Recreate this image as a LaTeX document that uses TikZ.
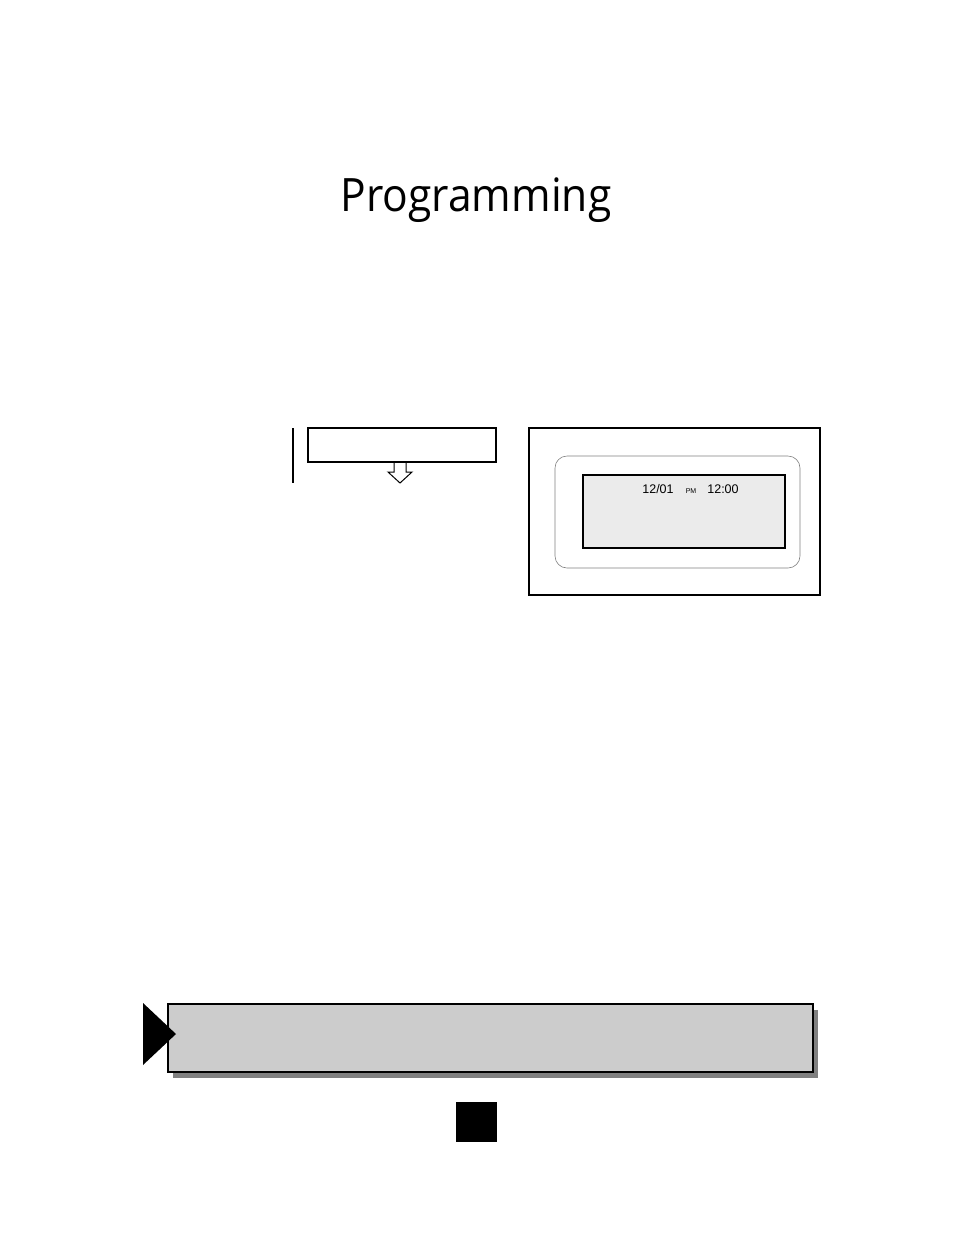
\documentclass[tikz,border=0pt]{standalone}
\usepackage{fontspec}
\setmainfont{Open Sans}
\newfontfamily\lcdfont{Liberation Sans}
\usetikzlibrary{positioning}
\definecolor{lcdgray}{RGB}{235,235,235}
\definecolor{notegray}{RGB}{204,204,204}
\definecolor{shadowgray}{RGB}{128,128,128}
\tikzset{
  plainbox/.style={draw, anchor=north west, inner sep=0pt, outer sep=0pt},
  lcdtext/.style={font=\lcdfont\fontsize{12.5}{14}\selectfont, inner sep=0pt}
}
\begin{document}
\begin{tikzpicture}[x=1pt, y=-1pt]
		\useasboundingbox (0,0) rectangle (954,1235);
		% Title
		\node[inner sep=0pt] (title) at (476,200) {\scalebox{0.925}[1]{\fontsize{46}{52}\selectfont Programming}};
		
		% Step box with hollow arrow
		\draw[line width=1.5pt] (293,428) -- (293,483);
		\node[plainbox, line width=1.3pt, minimum width=188pt, minimum height=34pt] (stepbox) at (308,428) {};
		\draw[line width=1pt, line join=miter] (394,462) -- (394,472) -- (388,472) -- (400,483) -- (412,472) -- (406,472) -- (406,462);
		
		% Display
		\node[plainbox, line width=1.3pt, minimum width=291pt, minimum height=167pt] (display) at (529,428) {};
		\node[plainbox, draw=gray, line width=0.6pt, rounded corners=12pt, minimum width=245pt, minimum height=112pt] (bezel) at (555,456) {};
		\node[plainbox, line width=1.6pt, fill=lcdgray, minimum width=202pt, minimum height=73pt] (lcd) at (583,475) {};
		\node[lcdtext] (date) at (658,489) {12/01};
		\node[lcdtext, font=\lcdfont\fontsize{7}{8}\selectfont] (ampm) at (691,491) {PM};
		\node[lcdtext] (clock) at (723,489) {12:00};
		
		% Note bar
		\node[plainbox, draw=none, fill=shadowgray, minimum width=645pt, minimum height=68pt] (noteshadow) at (173,1010) {};
		\node[plainbox, line width=1.3pt, fill=notegray, minimum width=645pt, minimum height=68pt] (note) at (168,1004) {};
		\fill (143,1003) -- (176,1034) -- (143,1065) -- cycle;
		
		% Page marker
		\node[plainbox, draw=none, fill=black, minimum width=41pt, minimum height=40pt] (pagemark) at (456,1102) {};
	\end{tikzpicture}
\end{document}
